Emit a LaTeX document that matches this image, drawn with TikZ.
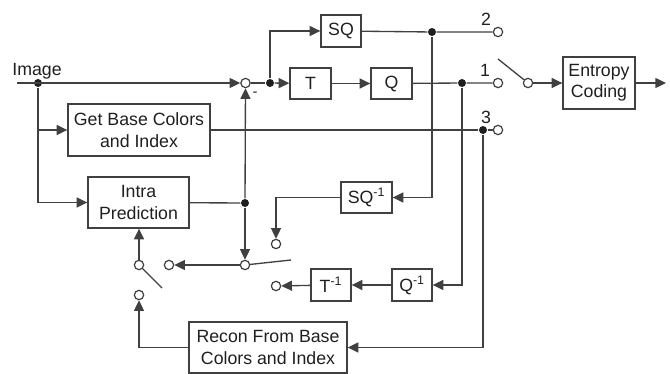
\documentclass[tikz,border=0pt]{standalone}
\usepackage{fontspec}
\setmainfont{Liberation Sans}
\usetikzlibrary{arrows.meta}
\begin{document}
\begin{tikzpicture}[x=0.75pt,y=-0.75pt, line width=1pt, color=black!75,
  every node/.style={font=\fontsize{13.3pt}{16pt}\selectfont, text=black!88},
  blk/.style={draw, rectangle, inner sep=0pt, align=center},
  port/.style={draw, circle, fill=white, line width=0.9pt, minimum size=7pt, inner sep=0pt},
  jdot/.style={circle, fill=black!88, minimum size=6pt, inner sep=0pt},
  arr/.style={-{Triangle[length=8pt,width=7.5pt]}}]
\useasboundingbox (0,0) rectangle (670,374);

% blocks
\node[blk, minimum width=30.75pt, minimum height=23.25pt] (T) at (310.5,83.5) {T};
\node[blk, minimum width=30.75pt, minimum height=23.25pt] (Q) at (391.5,83.5) {Q};
\node[blk, minimum width=30pt, minimum height=24pt] (SQ) at (341,31) {SQ};
\node[blk, minimum width=54pt, minimum height=39pt] (EC) at (599,83) {Entropy\\Coding};
\node[blk, minimum width=106.5pt, minimum height=39pt] (GB) at (139,130) {Get Base Colors\\and Index};
\node[blk, minimum width=75.75pt, minimum height=38.25pt] (IP) at (138.5,202.5) {Intra\\Prediction};
\node[blk, minimum width=38.25pt, minimum height=23.25pt] (SQi) at (366.5,197.5) {SQ\textsuperscript{-1}};
\node[blk, minimum width=30pt, minimum height=24pt] (Qi) at (412,285) {Q\textsuperscript{-1}};
\node[blk, minimum width=30pt, minimum height=24pt] (Ti) at (331,285) {T\textsuperscript{-1}};
\node[blk, minimum width=118.5pt, minimum height=38.25pt] (RC) at (268,347.5) {Recon From Base\\Colors and Index};

% junction dots
\node[jdot] (d0) at (38,83) {};
\node[jdot] (d1) at (270,83) {};
\node[jdot] (dSQ) at (432,32) {};
\node[jdot] (dQ) at (462,83) {};
\node[jdot] (d3) at (483,130) {};
\node[jdot] (dI) at (245,203) {};

% ports / circles
\node[port] (sum) at (245.5,83) {};
\node[port] (c2) at (498,32) {};
\node[port] (c1) at (498,83) {};
\node[port] (c3) at (498,130) {};
\node[port] (cE) at (528,83) {};
\node[port] (sA) at (245,265) {};
\node[port] (lA) at (169,265) {};
\node[port] (cSQ) at (276,244) {};
\node[port] (cT) at (276,286) {};
\node[port] (sB) at (139,265) {};
\node[port] (cR) at (139,295) {};

% free ends
\coordinate (in) at (17,83);
\coordinate (out) at (666,83);
\coordinate (bE) at (498,59);
\coordinate (bA) at (291,260);
\coordinate (bB) at (162,288);

% labels
\node (img) at (37,71) {Image};
\node (l2) at (486,19) {2};
\node (l1) at (485,70) {1};
\node (l3) at (486,117.5) {3};
\node[font=\fontsize{11pt}{12pt}\selectfont] (minus) at (255,94) {-};

% connectors
\draw[arr] (in) -- (sum);
\draw (sum) -- (d1);
\draw[arr] (d1) -- (T);
\draw[arr] (d1) |- (SQ);
\draw[arr] (T) -- (Q);
\draw (SQ) -- (dSQ) -- (c2);
\draw (Q) -- (dQ) -- (c1);
\draw (cE) -- (bE);
\draw[arr] (cE) -- (EC);
\draw[arr] (EC) -- (out);
\draw[arr] (d0) |- (GB);
\draw[arr] (d0) |- (IP);
\draw (GB) -- (d3) -- (c3);
\draw (IP) -- (dI);
\draw[arr] (dI) -- (sum);
\draw[arr] (dI) -- (sA);
\draw[arr] (dSQ) |- (SQi);
\draw[arr] (dQ) |- (Qi);
\draw[arr] (d3) |- (RC);
\draw[arr] (SQi) -| (cSQ);
\draw[arr] (Qi) -- (Ti);
\draw[arr] (Ti) -- (cT);
\draw[arr] (sA) -- (lA);
\draw (sA) -- (bA);
\draw[arr] (sB) -- (sB |- IP.south);
\draw (sB) -- (bB);
\draw[arr] (RC) -| (cR);
\end{tikzpicture}
\end{document}
